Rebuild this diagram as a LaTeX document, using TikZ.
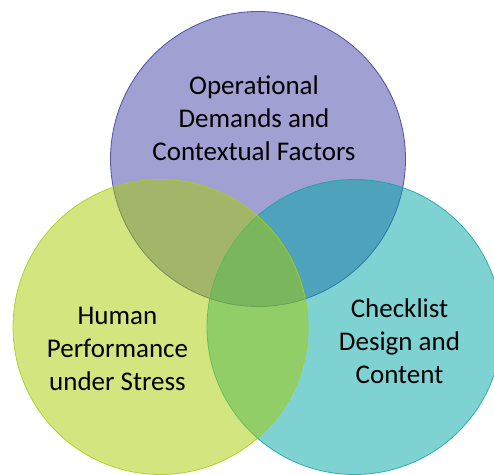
\documentclass[tikz,border=0pt]{standalone}
\usepackage{fontspec}
\setmainfont{Carlito}
\definecolor{topfill}{RGB}{65,65,165}
\definecolor{topline}{RGB}{60,60,160}
\definecolor{leftfill}{RGB}{165,203,0}
\definecolor{leftline}{RGB}{170,205,20}
\definecolor{rightfill}{RGB}{0,165,165}
\definecolor{rightline}{RGB}{20,165,170}
\tikzset{
  venn/.style={circle, minimum size=295pt, inner sep=0pt, fill opacity=0.5, draw opacity=0.85, line width=0.8pt},
  lbl/.style={align=center, font=\fontsize{27}{33}\selectfont, text=black}
}
\begin{document}
\begin{tikzpicture}[x=1pt,y=1pt]
\useasboundingbox (0,0) rectangle (494,474);
\node[venn, fill=topfill, draw=topline] (top) at (258,315) {};
\node[venn, fill=rightfill, draw=rightline] (right) at (354.5,147) {};
\node[venn, fill=leftfill, draw=leftline] (left) at (160.5,147) {};
\node[lbl] (ttop) at (254,356) {Operational\\Demands and\\Contextual Factors};
\node[lbl] (tleft) at (117.5,125) {Human\\Performance\\under Stress};
\node[lbl] (tright) at (399.5,133) {Checklist\\Design and\\Content};
\end{tikzpicture}
\end{document}
